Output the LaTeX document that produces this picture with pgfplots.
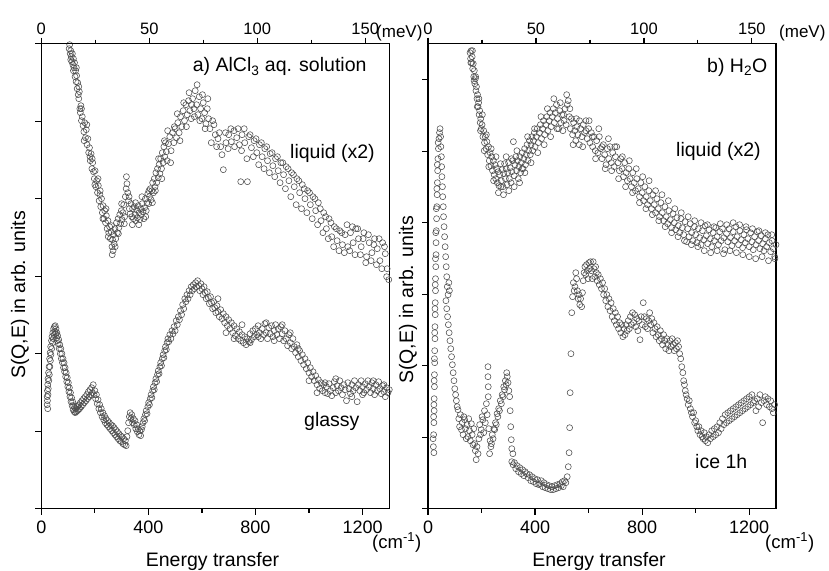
\documentclass[border=0pt]{standalone}
\usepackage{pgfplots}
\pgfplotsset{compat=1.18}
\usepackage{fontspec}
\setmainfont{Liberation Sans}
\begin{document}
\begin{tikzpicture}
\useasboundingbox (0pt,0pt) rectangle (829pt,570pt);
\pgfplotsset{
 panel/.style={width=348pt,height=465pt,scale only axis,
  xmin=0,xmax=1300,ymin=0,ymax=465,
  axis line style={line width=1.2pt},
  tick style={line width=1.2pt,black},
  tick align=outside, major tick length=6pt, minor tick length=4pt,
  xtick={0,400,800,1200}, minor xtick={200,600,1000},
  xtick pos=bottom, ytick pos=left, yticklabels={},
  ticklabel style={font=\fontsize{18}{20}\selectfont},
  /pgf/number format/assume math mode=true,
  /pgf/number format/1000 sep={},
  xticklabel style={anchor=base,yshift=-18.6pt},
  scaled ticks=false},
 toppanel/.style={width=348pt,height=465pt,scale only axis,
  xmin=0,xmax=161.18,ymin=0,ymax=1,
  axis x line*=top, axis y line=none,
  axis line style={line width=1.2pt},
  tick style={line width=1.2pt,black},
  tick align=outside, major tick length=6pt, minor tick length=4pt,
  xtick={0,50,100,150}, minor xtick={25,75,125},
  ticklabel style={font=\fontsize{16.5}{19}\selectfont},
  /pgf/number format/assume math mode=true,
  xticklabel style={anchor=base,yshift=3.6pt}},
 pts/.style={only marks, mark=o, mark size=3pt,
  mark options={draw=black!70,line width=0.55pt}}
}
% ---------------- left panel ----------------
\begin{axis}[panel, at={(41.3pt,61.3pt)}, anchor=south west,
  ytick={0,77.5,155,232.5,310,387.5,465}]
% liquid (x2)
\addplot[pts] coordinates {
(102,468)(104,460)(106,464)(108,455)(110,458)(112,452)(114,447)(116,455)(118,444)(120,450)(122,441)(124,446)(126,432)(128,438)(130,427)(132,433)(134,420)(136,426)(138,414)(140,410)(142,417)(144,400)(146,396)(148,403)(150,388)(153,392)(156,383)(159,377)(162,386)(165,371)(168,379)(171,364)(174,370)(177,356)(180,361)(183,348)(186,355)(189,340)(192,346)(195,337)(198,330)(201,338)(204,322)(207,328)(210,316)(213,323)(216,308)(219,314)(222,302)(225,310)(228,296)(231,303)(234,290)(237,298)(240,286)(243,293)(246,280)(249,288)(252,276)(255,282)(258,270)(261,277)(264,262)(266,269)(268,258)(270,274)(272,265)(275,280)(278,270)(281,286)(284,276)(287,290)(290,281)(293,294)(296,285)(299,298)(302,289)(305,296)(308,304)(311,292)(314,312)(317,320)(320,325)(323,316)(326,308)(329,300)(332,295)(335,305)(338,292)(341,300)(344,290)(347,302)(350,294)(353,288)(356,299)(359,291)(362,303)(365,296)(368,289)(371,300)(374,294)(377,305)(380,297)(383,290)(386,301)(389,310)(392,298)(395,306)(398,315)(401,305)(404,312)(407,320)(410,309)(413,318)(416,326)(419,316)(422,330)(425,322)(428,336)(431,326)(434,340)(437,331)(440,344)(443,335)(446,350)(449,340)(452,356)(455,346)(458,362)(461,352)(464,366)(467,357)(470,348)(475,365)(480,372)(485,358)(490,376)(495,366)(500,380)(505,371)(510,386)(515,376)(520,392)(525,382)(530,398)(535,388)(540,404)(545,394)(550,408)(555,398)(560,390)(565,410)(570,400)(575,418)(580,404)(585,394)(590,412)(595,400)(600,390)(605,406)(610,396)(615,385)(620,400)(625,390)(630,380)(640,388)(650,374)(660,370)(670,362)(680,339)(690,366)(700,374)(710,367)(720,378)(730,371)(740,364)(745,327)(750,374)(760,366)(770,327)(775,372)(785,361)(795,368)(805,356)(815,364)(825,352)(835,360)(845,348)(855,355)(865,343)(875,350)(885,338)(895,346)(905,334)(915,342)(925,328)(935,336)(945,322)(955,330)(965,316)(975,324)(985,310)(995,318)(1005,304)(1015,312)(1025,298)(1035,306)(1045,288)(1055,296)(1065,280)(1075,290)(1085,272)(1095,282)(1105,268)(1115,278)(1125,264)(1135,274)(1145,262)(1155,276)(1165,266)(1175,280)(1185,270)(1195,262)(1205,276)(1215,252)(1225,266)(1235,256)(1245,270)(1255,260)(1265,248)(1275,266)(1285,255)(1292,240)(1298,229)
(110,449)(120,438)(131,441)(140,422)(150,400)(160,368)(170,384)(182,352)(190,350)(200,324)(212,330)(220,318)(230,290)(242,300)(250,272)(262,283)(265,254)(276,262)(288,275)(300,305)(310,285)(318,332)(328,312)(340,284)(352,306)(364,284)(376,312)(390,292)(402,318)(415,306)(426,318)(438,350)(450,330)(460,368)(472,378)(483,346)(497,382)(508,395)(518,368)(532,406)(542,382)(552,416)(562,404)(572,392)(582,424)(592,388)(602,414)(612,380)(622,410)(635,366)(645,384)(655,362)(665,376)(675,354)(688,376)(698,360)(708,380)(722,362)(735,380)(748,358)(758,380)(768,350)(780,374)(792,352)(802,370)(812,344)(822,366)(832,340)(842,362)(852,336)(862,356)(872,332)(882,352)(892,326)(902,346)(912,320)(922,340)(932,312)(942,334)(952,304)(962,328)(972,300)(982,320)(992,296)(1002,316)(1012,290)(1022,310)(1032,284)(1042,300)(1052,276)(1062,292)(1072,270)(1082,286)(1092,262)(1102,280)(1112,258)(1122,276)(1132,256)(1142,284)(1152,258)(1162,282)(1172,254)(1182,280)(1192,254)(1202,270)(1212,246)(1222,274)(1232,248)(1242,264)(1252,244)(1262,270)(1272,240)(1282,262)(1290,232)
};
% glassy
\addplot[pts] coordinates {
(22,104)(22,112)(23,108)(23,118)(24,100)(24,124)(25,114)(25,130)(26,120)(27,136)(28,128)(29,142)(30,134)(31,150)(32,142)(33,156)(34,148)(35,162)(36,154)(38,168)(39,160)(40,172)(42,166)(43,176)(45,170)(46,180)(48,174)(49,182)(51,177)(52,183)(54,175)(55,180)(57,171)(58,176)(60,168)(61,173)(63,165)(65,169)(67,160)(69,164)(71,155)(73,160)(75,150)(77,155)(79,146)(81,150)(83,141)(85,146)(87,137)(89,141)(91,132)(93,136)(95,127)(97,131)(99,122)(101,126)(103,117)(105,121)(107,112)(109,116)(111,107)(113,111)(115,103)(117,107)(119,99)(121,103)(123,97)(125,101)(127,96)(129,100)(131,97)(133,102)(135,98)(137,103)(139,99)(141,104)(143,100)(146,106)(149,102)(152,108)(155,104)(158,110)(161,106)(164,112)(167,108)(170,114)(173,110)(176,117)(179,112)(182,119)(185,114)(188,121)(191,116)(194,124)(197,114)(200,118)(203,110)(206,114)(209,105)(212,109)(215,100)(218,104)(221,96)(224,100)(227,92)(230,96)(233,89)(236,93)(239,86)(242,90)(245,84)(248,88)(251,82)(254,86)(257,80)(260,84)(263,78)(266,83)(269,76)(272,81)(275,74)(278,79)(281,72)(284,77)(287,70)(290,75)(293,68)(296,73)(299,67)(302,72)(305,65)(308,70)(311,64)(314,68)(317,63)(320,72)(323,78)(326,86)(329,92)(332,96)(335,90)(338,94)(341,86)(344,90)(347,84)(350,88)(353,80)(356,84)(359,77)(362,80)(365,74)(368,78)(371,73)(374,79)(377,82)(380,86)(383,90)(386,88)(389,94)(392,98)(395,95)(398,102)(401,106)(404,104)(407,110)(410,114)(413,111)(416,118)(419,122)(422,119)(425,126)(428,130)(431,127)(434,134)(437,138)(440,135)(443,142)(446,146)(449,143)(452,150)(455,154)(458,151)(461,158)(464,162)(467,159)(470,166)(473,170)(476,167)(480,174)(484,170)(488,178)(492,175)(496,182)(500,178)(504,188)(508,184)(512,192)(516,189)(520,198)(524,194)(528,204)(532,200)(536,210)(540,207)(544,214)(548,210)(552,218)(556,214)(560,222)(564,218)(568,224)(572,220)(576,226)(580,222)(584,228)(588,223)(592,218)(596,225)(600,220)(604,214)(608,222)(612,216)(616,210)(620,217)(624,211)(628,205)(632,212)(636,206)(640,200)(644,207)(648,201)(652,196)(656,203)(660,197)(665,192)(670,199)(675,190)(680,195)(685,186)(690,192)(695,183)(700,189)(705,180)(710,186)(715,176)(720,183)(725,173)(730,180)(735,170)(740,177)(745,168)(750,174)(755,166)(760,172)(765,164)(770,170)(775,167)(780,175)(785,169)(790,178)(795,172)(800,180)(805,174)(810,183)(815,176)(820,170)(825,180)(830,174)(835,185)(840,176)(845,170)(850,181)(855,175)(860,183)(865,172)(870,178)(875,184)(880,174)(885,180)(890,170)(895,182)(900,175)(905,168)(910,178)(915,170)(920,163)(925,174)(930,166)(935,160)(940,170)(945,162)(950,156)(955,164)(960,152)(965,158)(970,148)(975,154)(980,144)(985,150)(990,140)(995,146)(1000,136)(1005,141)(1010,132)(1015,137)(1020,128)(1025,133)(1030,124)(1035,129)(1040,120)(1045,126)(1050,118)(1055,124)(1060,116)(1065,122)(1070,115)(1075,125)(1080,118)(1085,113)(1090,121)(1095,127)(1100,116)(1105,123)(1110,118)(1115,128)(1120,121)(1125,114)(1130,124)(1135,119)(1140,108)(1145,126)(1150,120)(1155,115)(1160,124)(1165,118)(1170,128)(1175,121)(1180,107)(1185,124)(1190,118)(1195,128)(1200,122)(1205,116)(1210,125)(1215,119)(1220,128)(1225,122)(1230,116)(1235,126)(1240,120)(1245,114)(1250,124)(1255,118)(1260,127)(1265,120)(1270,115)(1275,123)(1280,117)(1285,112)(1290,121)(1295,116)(1300,119)
(660,210)(690,176)(720,170)(750,184)(780,166)(810,172)(840,186)(870,168)(900,184)(930,176)(960,160)(1000,128)(1030,116)(1060,126)(1100,130)(1160,112)(1200,114)(1240,128)(1280,124)
};
\end{axis}
\begin{axis}[toppanel, at={(41.3pt,61.3pt)}, anchor=south west]
\end{axis}
% ---------------- right panel ----------------
\begin{axis}[panel, at={(428pt,61.3pt)}, anchor=south west,
  ytick={0,71.5,143,214.5,286,357.5,429}]
% liquid (x2)
\addplot[pts] coordinates {
(157,456)(159,450)(161,458)(163,446)(165,452)(167,440)(169,445)(171,432)(173,438)(175,425)(177,430)(179,418)(181,422)(183,410)(185,414)(187,402)(189,406)(191,394)(193,398)(195,386)(197,390)(199,380)(202,384)(205,372)(208,378)(211,366)(214,372)(217,360)(220,367)(223,354)(226,362)(229,348)(232,356)(235,343)(238,352)(241,338)(244,348)(247,334)(250,344)(253,330)(256,340)(259,326)(262,337)(265,323)(268,334)(271,345)(274,328)(277,339)(280,322)(283,335)(286,345)(289,330)(292,340)(295,324)(298,336)(301,346)(304,330)(307,341)(310,326)(313,337)(316,348)(319,367)(322,333)(325,344)(328,352)(331,338)(334,348)(337,330)(340,342)(343,352)(346,336)(349,346)(352,356)(355,340)(358,350)(361,360)(364,344)(367,354)(370,364)(373,348)(376,358)(379,368)(382,354)(385,364)(388,372)(391,358)(394,368)(397,376)(400,362)(404,372)(408,380)(412,366)(416,376)(420,384)(424,370)(428,380)(432,388)(436,374)(440,384)(444,392)(448,378)(452,388)(456,396)(460,382)(464,392)(468,400)(472,386)(476,396)(480,404)(484,390)(488,380)(492,398)(496,386)(500,394)(504,378)(508,388)(512,400)(516,384)(520,404)(524,408)(528,392)(532,380)(536,390)(540,374)(544,386)(548,378)(552,368)(556,382)(560,374)(565,364)(570,380)(575,372)(580,384)(585,376)(590,388)(595,370)(600,380)(605,366)(610,376)(615,362)(620,372)(625,358)(630,368)(635,356)(640,372)(645,360)(650,350)(655,364)(660,354)(665,344)(670,360)(675,350)(680,362)(685,346)(690,356)(695,342)(700,352)(705,362)(710,346)(715,338)(720,350)(725,340)(730,332)(735,346)(740,336)(745,328)(750,340)(755,330)(760,322)(765,336)(770,326)(775,318)(780,330)(785,320)(790,312)(795,326)(800,316)(805,308)(810,322)(815,312)(820,304)(825,318)(830,308)(835,300)(840,314)(845,304)(850,296)(855,310)(860,300)(865,292)(870,306)(875,296)(880,288)(885,302)(890,292)(895,285)(900,298)(905,289)(910,281)(915,295)(920,286)(925,279)(930,291)(935,283)(940,276)(945,290)(950,281)(955,274)(960,287)(966,267)(970,280)(975,272)(980,285)(985,276)(990,268)(995,282)(1000,274)(1005,266)(1010,280)(1015,271)(1020,264)(1025,278)(1030,269)(1035,283)(1040,273)(1045,265)(1050,279)(1055,270)(1060,262)(1065,276)(1070,268)(1075,281)(1080,272)(1085,264)(1090,277)(1095,268)(1100,280)(1105,271)(1109,259)(1115,275)(1120,267)(1125,280)(1130,271)(1135,263)(1140,277)(1145,268)(1150,282)(1155,272)(1160,264)(1165,278)(1170,269)(1175,261)(1180,274)(1185,266)(1190,279)(1195,270)(1200,262)(1205,276)(1210,267)(1215,259)(1220,272)(1225,264)(1230,277)(1235,268)(1240,260)(1245,273)(1250,265)(1255,258)(1260,270)(1265,262)(1270,274)(1275,266)(1280,257)(1285,268)(1290,260)(1295,252)(1300,264)
(160,446)(166,458)(172,428)(178,432)(184,402)(190,410)(196,378)(203,394)(210,358)(218,374)(227,342)(236,360)(245,328)(254,352)(263,316)(272,322)(282,314)(292,352)(302,318)(312,350)(322,322)(332,358)(342,326)(352,340)(362,336)(372,372)(385,346)(398,380)(410,356)(422,392)(434,364)(446,400)(458,372)(470,410)(482,380)(494,406)(506,394)(518,414)(530,400)(542,364)(554,390)(566,388)(578,362)(590,378)(602,388)(614,372)(626,350)(638,380)(650,362)(662,340)(674,370)(686,338)(698,362)(712,330)(726,352)(738,322)(752,348)(764,316)(778,340)(790,306)(802,332)(814,300)(826,328)(838,294)(850,318)(862,288)(874,314)(886,282)(898,308)(910,276)(922,300)(934,272)(946,296)(958,268)(972,292)(984,264)(996,288)(1008,262)(1020,286)(1032,258)(1044,284)(1056,256)(1068,282)(1080,258)(1092,285)(1104,255)(1116,284)(1128,258)(1140,286)(1152,256)(1164,284)(1176,254)(1188,282)(1200,252)(1212,280)(1224,250)(1236,278)(1248,252)(1260,276)(1272,248)(1284,274)(1296,250)
};
% ice 1h
\addplot[pts] coordinates {
(20,62)(21,74)(22,56)(22,86)(23,98)(23,110)(24,122)(24,134)(25,146)(25,158)(26,170)(26,182)(27,194)(27,206)(28,218)(28,230)(29,242)(30,254)(30,266)(31,278)(32,290)(33,302)(34,314)(35,326)(36,338)(37,350)(39,360)(41,370)(43,376)(45,380)(47,372)(48,362)(50,352)(51,342)(52,332)(54,322)(55,312)(57,302)(58,292)(60,282)(62,272)(64,262)(66,252)(68,242)(70,232)(72,222)(75,214)(78,226)(80,218)(67,208)(70,200)(73,192)(76,184)(79,176)(82,168)(85,160)(88,152)(91,144)(94,136)(97,128)(100,120)(103,114)(106,108)(109,102)
(19,70)(21,92)(22,104)(23,128)(24,150)(25,176)(26,200)(27,224)(28,250)(29,276)(31,300)(33,320)(35,344)(38,366)
(112,99)(115,90)(118,82)(121,94)(125,79)(128,86)(131,74)(134,92)(137,89)(140,80)(143,70)(146,84)(149,72)(152,90)(155,78)(158,68)(162,85)(165,74)(168,64)(171,80)(174,65)(177,58)(180,49)(183,62)(187,55)(190,70)(193,84)(196,74)(199,79)(202,92)(205,89)(208,76)(211,98)(214,86)(218,105)(221,94)(224,142)(224,132)(225,122)(225,112)(227,80)(230,55)(232,68)(235,62)(237,65)(240,74)(243,70)(246,80)(249,79)(252,86)(255,84)(258,95)(261,92)(264,100)(267,98)(270,108)(274,105)(277,114)(280,112)(283,122)(286,119)(289,128)(292,124)(294,136)(296,132)(299,126)(302,118)(305,112)(307,98)(309,82)(311,69)(313,60)(317,55)
(313,47)(318,44)(323,46)(328,40)(333,43)(338,37)(343,41)(348,35)(353,39)(358,33)(363,37)(369,35)(374,31)(379,34)(384,28)(389,32)(394,27)(399,30)(404,25)(409,29)(414,24)(418,25)(423,28)(428,22)(433,26)(438,21)(443,24)(448,20)(453,23)(458,19)(463,22)(468,19)(473,23)(478,20)(483,24)(488,21)(493,25)(498,23)(502,27)(505,22)(510,28)(515,26)(520,32)(524,42)
(527,56)(529,81)(531,116)(534,155)(537,196)(540,212)(543,226)(546,218)(549,222)(552,236)(555,230)(558,218)(561,210)(564,214)(567,204)(570,210)(574,202)(577,216)(580,228)(583,236)(586,242)(589,234)(592,244)(595,238)(598,230)(601,246)(604,240)(607,247)(610,238)(613,230)(617,247)(620,240)(623,232)(626,242)(629,236)(632,228)(636,234)(640,224)(644,230)(648,220)(652,226)(656,214)(660,220)(664,208)(668,214)(672,202)(676,210)(680,198)(684,206)(688,192)(692,200)(696,188)(700,196)(704,184)(708,192)(712,180)(716,186)(720,176)(724,184)(728,172)(732,180)(736,174)(740,184)(744,178)(748,188)(752,180)(756,192)(760,184)(764,196)(768,186)(772,194)(776,182)(780,190)(784,178)(788,188)(792,169)(796,192)(800,184)(804,206)(808,192)(812,182)(816,190)(820,180)(824,188)(828,196)(832,184)(836,190)(840,176)(844,186)(848,180)(852,172)(856,182)(860,174)(864,168)(868,178)(872,170)(876,164)(880,174)(884,168)(888,160)(892,170)(896,164)(900,158)(904,168)(908,162)(912,170)(916,164)(920,158)(924,166)(928,160)(932,168)(936,162)(940,155)(944,150)(948,142)(952,136)(955,128)(958,124)(961,118)(964,114)(968,110)(972,104)(976,108)(980,100)(984,96)(988,92)(992,96)(996,86)(1000,88)(1004,82)(1008,78)(1012,82)(1016,74)(1020,78)(1024,72)(1028,70)(1032,76)(1036,68)(1040,72)(1045,66)(1050,74)(1055,70)(1060,78)(1065,72)(1070,80)(1075,74)(1080,82)(1085,76)(1090,86)(1095,80)(1100,90)(1105,84)(1110,94)(1115,86)(1120,96)(1125,88)(1130,98)(1135,90)(1140,100)(1145,92)(1150,102)(1155,94)(1160,104)(1165,96)(1170,106)(1175,98)(1180,108)(1185,100)(1190,110)(1195,102)(1200,112)(1205,104)(1210,114)(1215,106)(1220,108)(1225,98)(1230,110)(1235,102)(1240,114)(1245,106)(1250,86)(1255,108)(1260,112)(1265,104)(1270,110)(1275,102)(1280,108)(1285,100)(1290,96)(1295,104)
};
\end{axis}
\begin{axis}[toppanel, at={(428pt,61.3pt)}, anchor=south west]
\end{axis}
% ---------------- texts ----------------
\begin{scope}[every node/.style={font=\fontsize{19.5}{22}\selectfont, inner sep=0pt}]
\node[anchor=base west] at (192.7pt,498pt) {a) AlCl\textsubscript{3} aq. solution};
\node[anchor=base west] at (290pt,411pt) {liquid (x2)};
\node[anchor=base west] at (304pt,143.3pt) {glassy};
\node[anchor=base west] at (707pt,497.3pt) {b) H\textsubscript{2}O};
\node[anchor=base west] at (676pt,413.3pt) {liquid (x2)};
\node[anchor=base west] at (695pt,102pt) {ice 1h};
\node[anchor=base] at (212.5pt,4pt) {Energy transfer};
\node[anchor=base] at (599pt,4pt) {Energy transfer};
\node[rotate=90] at (20pt,275pt) {S(Q,E) in arb. units};
\node[rotate=90] at (408pt,270pt) {S(Q,E) in arb. units};
\node[anchor=base west,font=\fontsize{18.5}{20}\selectfont] at (372pt,22pt) {(cm\textsuperscript{-1})};
\node[anchor=base west,font=\fontsize{18.5}{20}\selectfont] at (765pt,22pt) {(cm\textsuperscript{-1})};
\node[anchor=base west,font=\fontsize{17}{20}\selectfont] at (376pt,532pt) {(meV)};
\node[anchor=base west,font=\fontsize{17}{20}\selectfont] at (779pt,532pt) {(meV)};
\end{scope}
\end{tikzpicture}
\end{document}
